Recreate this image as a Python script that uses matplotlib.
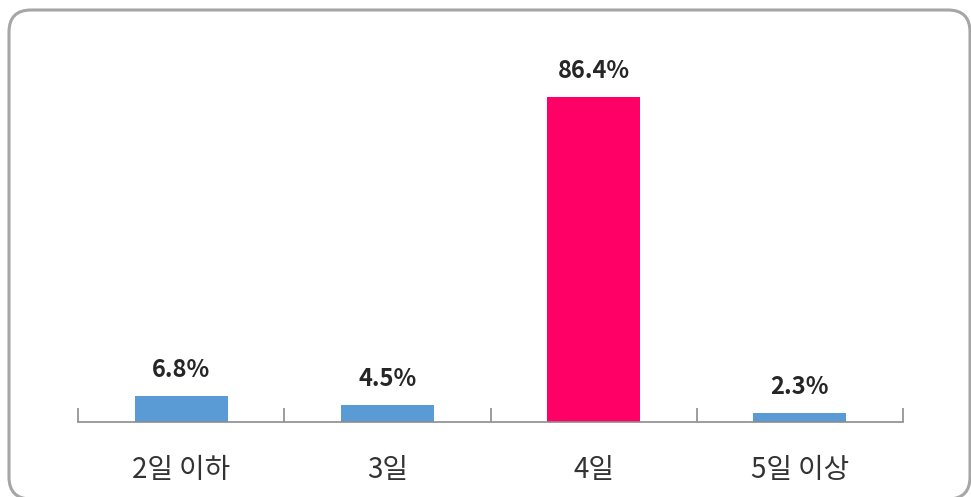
import matplotlib
matplotlib.use("Agg")
import matplotlib.pyplot as plt
from matplotlib.patches import FancyBboxPatch

categories = ["2일 이하", "3일", "4일", "5일 이상"]
values = [6.8, 4.5, 86.4, 2.3]
labels = ["6.8%", "4.5%", "86.4%", "2.3%"]
colors = ["#5B9BD5", "#5B9BD5", "#FF0066", "#5B9BD5"]

plt.rcParams['font.family'] = ['Noto Sans CJK KR', 'DejaVu Sans']

W, H = 971, 497
fig = plt.figure(figsize=(W / 100, H / 100), dpi=100)
fig.patch.set_facecolor("white")

# rounded border
r = 22
border = FancyBboxPatch((9 / W, 1 - 499 / H), (970 - 9) / W, (499 - 10) / H,
                        boxstyle=f"round,pad=0,rounding_size={r / W}",
                        transform=fig.transFigure, facecolor="none",
                        edgecolor="#a6a6a6", linewidth=2.2, mutation_aspect=W / H)
fig.patches.append(border)

ax = fig.add_axes([78 / W, (H - 422) / H, (903 - 78) / W, (422 - 97) / H])
x = list(range(len(categories)))
ax.bar(x, values, width=0.45, color=colors, zorder=2)
ax.set_xlim(-0.5, len(categories) - 0.5)
ax.set_ylim(0, max(values))

for xi, v, lab in zip(x, values, labels):
    ax.annotate(lab, (xi, v), xytext=(0, 14), textcoords="offset points",
                ha="center", va="baseline", fontsize=17, fontweight="bold",
                color="#262626")

for s in ["top", "right", "left"]:
    ax.spines[s].set_visible(False)
ax.spines["bottom"].set_color("#8c8c8c")
ax.spines["bottom"].set_linewidth(1.2)
ax.set_yticks([])
ax.set_xticks(x)
ax.set_xticklabels(categories, fontsize=20, color="#333333")
ax.tick_params(axis="x", which="major", length=0, pad=24)
ax.set_xticks([i - 0.5 for i in range(len(categories) + 1)], minor=True)
ax.tick_params(axis="x", which="minor", direction="in", length=10,
               width=1.2, color="#8c8c8c")
ax.patch.set_alpha(0)

fig.savefig("out.png", dpi=100)
